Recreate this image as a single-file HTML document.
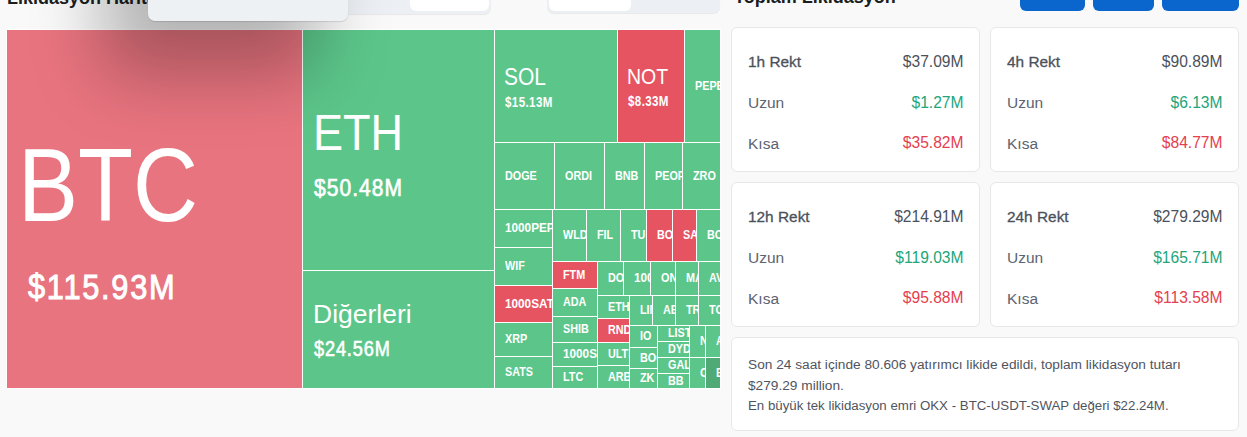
<!DOCTYPE html>
<html><head><meta charset="utf-8">
<style>
*{margin:0;padding:0;box-sizing:border-box}
html,body{width:1247px;height:437px;overflow:hidden;background:#f9f9f9;font-family:"Liberation Sans",sans-serif}
.abs{position:absolute}
.title{position:absolute;font-weight:bold;font-size:18px;color:#1a1d21;line-height:18px;white-space:nowrap}
.seg{position:absolute;background:#eceff3;border-radius:7px;box-shadow:0 1px 1px rgba(0,0,0,0.07)}
.seg .on{position:absolute;background:#fff;border-radius:6px}
.popup{position:absolute;left:148px;top:-140px;width:200px;height:161px;background:#eef1f4;border-radius:7px;box-shadow:0 1px 1px rgba(0,0,0,0.12),-38px 46px 70px 8px rgba(0,0,0,0.28)}
.btn{position:absolute;top:-20px;height:31px;background:#0a66cc;border-radius:6px}
.map{position:absolute;left:6px;top:29px;width:715px;height:360px;background:#fff}
.c{position:absolute;overflow:hidden;color:#fff}
.s{display:flex;align-items:center;padding-left:10px;padding-bottom:1px;font-weight:bold;font-size:12px;white-space:nowrap}
.s span{display:inline-block;transform:scaleX(0.9);transform-origin:0 50%}
.big{position:absolute;white-space:nowrap;color:#fff;line-height:1;transform-origin:0 0}
.card{position:absolute;background:#fff;border:1px solid #e6e7e9;border-radius:6px}
.row{position:absolute;left:16px;right:15.5px;font-size:15.5px;color:#5c6370;line-height:15px;white-space:nowrap}
.row .v{position:absolute;right:0;top:-0.5px;font-size:15.6px;-webkit-text-stroke:0}
.row.h{font-weight:normal;font-size:15.4px;color:#4b515b;-webkit-text-stroke:0.3px #4b515b}
.row.h .v{font-weight:normal}
.gr{color:#22a57a}.rd{color:#e5404f}
.info{position:absolute;left:731px;top:337px;width:508px;height:94px;background:#fff;border:1px solid #e6e7e9;border-radius:6px}
.info p{position:absolute;left:16px;font-size:13.7px;color:#4f5560;white-space:nowrap;line-height:14px}
</style></head><body>
<div class="title" style="left:7px;top:-11px">Likidasyon Haritası</div>
<div class="seg" style="left:300px;top:-20px;width:191px;height:34px"><div class="on" style="left:110px;top:2px;width:79px;height:29px"></div></div>
<div class="seg" style="left:547px;top:-20px;width:173px;height:33px"><div class="on" style="left:2px;top:2px;width:82px;height:29px"></div></div>
<div class="title" style="left:734px;top:-12px">Toplam Likidasyon</div>
<div class="btn" style="left:1020px;width:65px"></div>
<div class="btn" style="left:1093px;width:61px"></div>
<div class="btn" style="left:1162px;width:77px"></div>

<div class="map">
<div class="c" style="left:1px;top:1px;width:295px;height:358px;background:#e8747f"></div>
<div class="c" style="left:297px;top:1px;width:191px;height:240px;background:#5cc68a"></div>
<div class="c" style="left:297px;top:242px;width:191px;height:117px;background:#5cc68a"></div>
<div class="c" style="left:489px;top:1px;width:122px;height:112px;background:#5cc68a"></div>
<div class="c" style="left:612px;top:1px;width:66px;height:112px;background:#e65462"></div>
</div>
<div style="position:absolute;left:0;top:0">
<div class="c s" style="left:685px;top:30px;width:35px;height:112px;background:#5cc68a"><span>PEPE</span></div>
<div class="c s" style="left:495px;top:143px;width:59px;height:66px;background:#5cc68a"><span>DOGE</span></div>
<div class="c s" style="left:555px;top:143px;width:49px;height:66px;background:#5cc68a"><span>ORDI</span></div>
<div class="c s" style="left:605px;top:143px;width:39px;height:66px;background:#5cc68a"><span>BNB</span></div>
<div class="c s" style="left:645px;top:143px;width:37px;height:66px;background:#5cc68a"><span>PEOPLE</span></div>
<div class="c s" style="left:683px;top:143px;width:37px;height:66px;background:#5cc68a"><span>ZRO</span></div>
<div class="c s" style="left:495px;top:210px;width:57px;height:37px;background:#5cc68a"><span style="transform:scaleX(0.98)">1000PEPE</span></div>
<div class="c s" style="left:495px;top:248px;width:57px;height:37px;background:#5cc68a"><span>WIF</span></div>
<div class="c s" style="left:495px;top:286px;width:57px;height:36px;background:#e65462"><span style="transform:scaleX(0.98)">1000SATS</span></div>
<div class="c s" style="left:495px;top:323px;width:57px;height:33px;background:#5cc68a"><span>XRP</span></div>
<div class="c s" style="left:495px;top:357px;width:57px;height:31px;background:#5cc68a"><span>SATS</span></div>
<div class="c s" style="left:553px;top:210px;width:33px;height:51px;background:#5cc68a"><span>WLD</span></div>
<div class="c s" style="left:587px;top:210px;width:33px;height:51px;background:#5cc68a"><span>FIL</span></div>
<div class="c s" style="left:621px;top:210px;width:25px;height:51px;background:#5cc68a"><span>TURBO</span></div>
<div class="c s" style="left:647px;top:210px;width:25px;height:51px;background:#e65462"><span>BOME</span></div>
<div class="c s" style="left:673px;top:210px;width:23px;height:51px;background:#e65462"><span>SAGA</span></div>
<div class="c s" style="left:697px;top:210px;width:23px;height:51px;background:#5cc68a"><span>BONK</span></div>
<div class="c s" style="left:553px;top:262px;width:44px;height:26px;background:#e65462"><span>FTM</span></div>
<div class="c s" style="left:553px;top:289px;width:44px;height:27px;background:#5cc68a"><span>ADA</span></div>
<div class="c s" style="left:553px;top:317px;width:44px;height:25px;background:#5cc68a"><span>SHIB</span></div>
<div class="c s" style="left:553px;top:343px;width:44px;height:23px;background:#5cc68a"><span style="transform:scaleX(0.98)">1000SHIB</span></div>
<div class="c s" style="left:553px;top:367px;width:44px;height:21px;background:#5cc68a"><span>LTC</span></div>
<div class="c s" style="left:598px;top:262px;width:25px;height:33px;background:#5cc68a"><span>DOGS</span></div>
<div class="c s" style="left:624px;top:262px;width:26px;height:33px;background:#5cc68a"><span style="transform:scaleX(0.98)">1000BONK</span></div>
<div class="c s" style="left:651px;top:262px;width:24px;height:33px;background:#5cc68a"><span>ONDO</span></div>
<div class="c s" style="left:676px;top:262px;width:22px;height:33px;background:#5cc68a"><span>MANTA</span></div>
<div class="c s" style="left:699px;top:262px;width:21px;height:33px;background:#5cc68a"><span>AVAX</span></div>
<div class="c s" style="left:598px;top:296px;width:31px;height:22px;background:#5cc68a"><span>ETHFI</span></div>
<div class="c s" style="left:598px;top:319px;width:31px;height:23px;background:#e65462"><span>RNDR</span></div>
<div class="c s" style="left:598px;top:343px;width:31px;height:22px;background:#5cc68a"><span>ULTIMA</span></div>
<div class="c s" style="left:598px;top:366px;width:31px;height:22px;background:#5cc68a"><span>ARB</span></div>
<div class="c s" style="left:630px;top:296px;width:22px;height:29px;background:#5cc68a"><span>LINK</span></div>
<div class="c s" style="left:653px;top:296px;width:22px;height:29px;background:#5cc68a"><span>AEVO</span></div>
<div class="c s" style="left:676px;top:296px;width:22px;height:29px;background:#5cc68a"><span>TRX</span></div>
<div class="c s" style="left:699px;top:296px;width:21px;height:29px;background:#5cc68a"><span>TON</span></div>
<div class="c s" style="left:630px;top:326px;width:27px;height:21px;background:#5cc68a"><span>IO</span></div>
<div class="c s" style="left:630px;top:348px;width:27px;height:20px;background:#5cc68a"><span>BOOK</span></div>
<div class="c s" style="left:630px;top:369px;width:27px;height:19px;background:#5cc68a"><span>ZK</span></div>
<div class="c s" style="left:658px;top:326px;width:31px;height:15px;background:#5cc68a"><span>LISTA</span></div>
<div class="c s" style="left:658px;top:342px;width:31px;height:15px;background:#5cc68a"><span>DYDX</span></div>
<div class="c s" style="left:658px;top:358px;width:31px;height:15px;background:#5cc68a"><span>GALA</span></div>
<div class="c s" style="left:658px;top:374px;width:31px;height:14px;background:#5cc68a"><span>BB</span></div>
<div class="c s" style="left:690px;top:326px;width:15px;height:31px;background:#5cc68a"><span>NEAR</span></div>
<div class="c s" style="left:690px;top:358px;width:15px;height:30px;background:#5cc68a"><span>CRV</span></div>
<div class="c s" style="left:706px;top:326px;width:14px;height:31px;background:#5cc68a"><span>APT</span></div>
<div class="c s" style="left:706px;top:358px;width:14px;height:30px;background:#50aa76"><span>BCH</span></div>
</div>
<div class="big" style="left:18.11px;top:133.97px;font-size:103.03px;font-weight:normal;transform:scaleX(0.8740)">BTC</div>
<div class="big" style="left:28.29px;top:270.32px;font-size:35.67px;font-weight:normal;transform:scaleX(0.8627);-webkit-text-stroke:1.00px #fff;letter-spacing:2.00px">$115.93M</div>
<div class="big" style="left:312.85px;top:108.10px;font-size:49.46px;font-weight:normal;transform:scaleX(0.9116)">ETH</div>
<div class="big" style="left:313.71px;top:176.37px;font-size:24.48px;font-weight:normal;transform:scaleX(0.8584);-webkit-text-stroke:0.69px #fff;letter-spacing:1.20px">$50.48M</div>
<div class="big" style="left:312.79px;top:300.73px;font-size:26.18px;font-weight:normal;transform:scaleX(1.0126)">Diğerleri</div>
<div class="big" style="left:314.46px;top:338.87px;font-size:21.39px;font-weight:normal;transform:scaleX(0.8498);-webkit-text-stroke:0.60px #fff;letter-spacing:1.00px">$24.56M</div>
<div class="big" style="left:504.31px;top:66.23px;font-size:23.51px;font-weight:normal;transform:scaleX(0.8935)">SOL</div>
<div class="big" style="left:504.85px;top:95.30px;font-size:14.62px;font-weight:bold;transform:scaleX(0.7909);letter-spacing:0.50px">$15.13M</div>
<div class="big" style="left:626.95px;top:67.33px;font-size:21.27px;font-weight:normal;transform:scaleX(0.9171)">NOT</div>
<div class="big" style="left:627.58px;top:93.94px;font-size:14.76px;font-weight:bold;transform:scaleX(0.7832);letter-spacing:0.50px">$8.33M</div>

<div class="popup"></div>

<div class="card" style="left:731px;top:27px;width:249px;height:145px">
 <div class="row h" style="top:26px">1h Rekt<span class="v">$37.09M</span></div>
 <div class="row" style="top:67px">Uzun<span class="v gr">$1.27M</span></div>
 <div class="row" style="top:107.5px">Kısa<span class="v rd">$35.82M</span></div>
</div>
<div class="card" style="left:990px;top:27px;width:249px;height:145px">
 <div class="row h" style="top:26px">4h Rekt<span class="v">$90.89M</span></div>
 <div class="row" style="top:67px">Uzun<span class="v gr">$6.13M</span></div>
 <div class="row" style="top:107.5px">Kısa<span class="v rd">$84.77M</span></div>
</div>
<div class="card" style="left:731px;top:182px;width:249px;height:145px">
 <div class="row h" style="top:26px">12h Rekt<span class="v">$214.91M</span></div>
 <div class="row" style="top:67px">Uzun<span class="v gr">$119.03M</span></div>
 <div class="row" style="top:107.5px">Kısa<span class="v rd">$95.88M</span></div>
</div>
<div class="card" style="left:990px;top:182px;width:249px;height:145px">
 <div class="row h" style="top:26px">24h Rekt<span class="v">$279.29M</span></div>
 <div class="row" style="top:67px">Uzun<span class="v gr">$165.71M</span></div>
 <div class="row" style="top:107.5px">Kısa<span class="v rd">$113.58M</span></div>
</div>
<div class="info">
 <p style="top:20px">Son 24 saat içinde 80.606 yatırımcı likide edildi, toplam likidasyon tutarı</p>
 <p style="top:41px">$279.29 million.</p>
 <p style="top:61px;transform:scaleX(0.97);transform-origin:0 0">En büyük tek likidasyon emri OKX - BTC-USDT-SWAP değeri $22.24M.</p>
</div>
</body></html>
